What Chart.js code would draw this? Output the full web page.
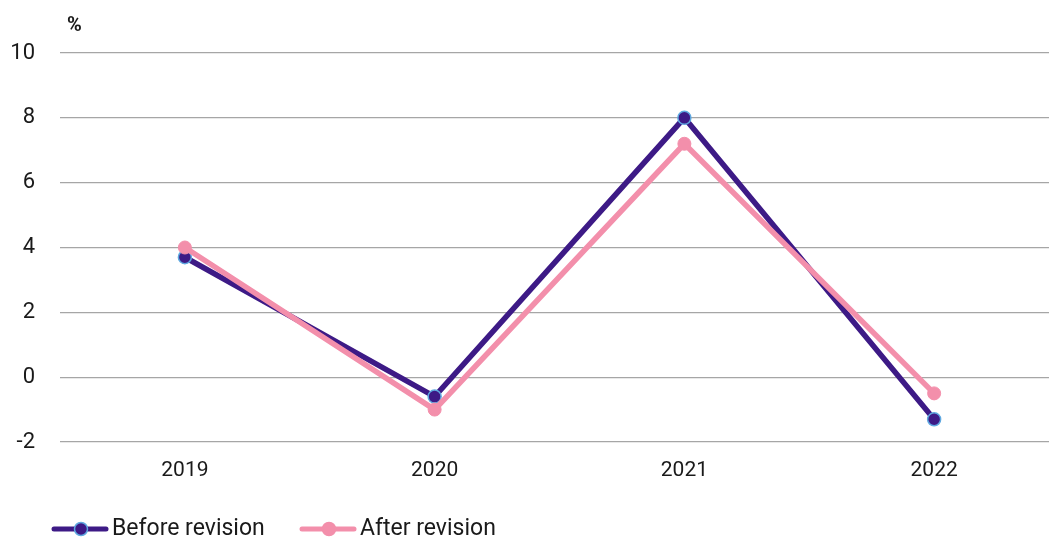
<!DOCTYPE html>
<html>
<head>
<meta charset="utf-8">
<script src="https://cdn.jsdelivr.net/npm/chart.js@4.4.0/dist/chart.umd.min.js"></script>
<style>
  html, body { margin: 0; padding: 0; background: #fff; overflow: hidden; }
  canvas { display: block; }
</style>
</head>
<body>
<canvas id="myChart" width="1067" height="537"></canvas>
<script>
// data
var years = ['2019', '2020', '2021', '2022'];
var beforeRevision = [3.7, -0.6, 8.0, -1.3];
var afterRevision = [4.0, -1.0, 7.2, -0.5];
var yTicks = [-2, 0, 2, 4, 6, 8, 10];

var purple = '#3d1a86';
var pink = '#f38fab';
var font = 'Roboto, "Noto Sans", sans-serif';

// draws the "%" unit label and a line+marker legend under the axis
var extras = {
    id: 'extras',
    afterDraw: function (chart) {
        var c = chart.ctx;
        c.save();
        c.fillStyle = '#1a1a1a';
        c.font = 'bold 20px ' + font;
        c.textAlign = 'left';
        c.textBaseline = 'middle';
        c.fillText('%', 67, 26);

        var items = [
            { label: 'Before revision', color: purple, border: '#5fa8e0', x: 54 },
            { label: 'After revision', color: pink, border: pink, x: 302 }
        ];
        var y = 529;
        items.forEach(function (it) {
            c.strokeStyle = it.color;
            c.lineWidth = 5;
            c.lineCap = 'round';
            c.beginPath();
            c.moveTo(it.x, y);
            c.lineTo(it.x + 52, y);
            c.stroke();
            c.beginPath();
            c.arc(it.x + 27, y, 6.5, 0, Math.PI * 2);
            c.fillStyle = it.color;
            c.fill();
            c.lineWidth = 1.5;
            c.strokeStyle = it.border;
            c.stroke();
            c.fillStyle = '#1a1a1a';
            c.font = '23px ' + font;
            c.fillText(it.label, it.x + 58, y);
        });
        c.restore();
    }
};

var ctx = document.getElementById('myChart').getContext('2d');
var chart = new Chart(ctx, {
    type: 'line',
    data: {
        labels: years,
        datasets: [{
            label: 'Before revision',
            data: beforeRevision,
            borderColor: purple,
            backgroundColor: purple,
            borderWidth: 5.5,
            pointRadius: 6.5,
            pointBorderWidth: 1.5,
            pointBorderColor: '#5fa8e0',
            pointBackgroundColor: purple,
            order: 2
        }, {
            label: 'After revision',
            data: afterRevision,
            borderColor: pink,
            backgroundColor: pink,
            borderWidth: 5.5,
            pointRadius: 6.5,
            pointBorderWidth: 1,
            pointBorderColor: pink,
            pointBackgroundColor: pink,
            order: 1
        }]
    },
    options: {
        responsive: false,
        animation: false,
        layout: { padding: { top: 53, bottom: 54, right: 0, left: 0 } },
        plugins: {
            legend: { display: false },
            tooltip: { enabled: false }
        },
        scales: {
            x: {
                offset: true,
                afterFit: function (scale) { scale.height = 41; },
                grid: { display: false, drawTicks: false },
                border: { display: false },
                ticks: { color: '#1a1a1a', font: { family: font, size: 21 }, padding: 16 }
            },
            y: {
                min: -2,
                max: 10,
                afterFit: function (scale) { scale.width = 60; },
                afterBuildTicks: function (scale) {
                    scale.ticks = yTicks.map(function (v) { return { value: v }; });
                },
                grid: { color: '#a6a6a6', lineWidth: 1.3, drawTicks: false },
                border: { display: false },
                ticks: { color: '#1a1a1a', font: { family: font, size: 22 }, padding: 25 }
            }
        }
    },
    plugins: [extras]
});
</script>
</body>
</html>
